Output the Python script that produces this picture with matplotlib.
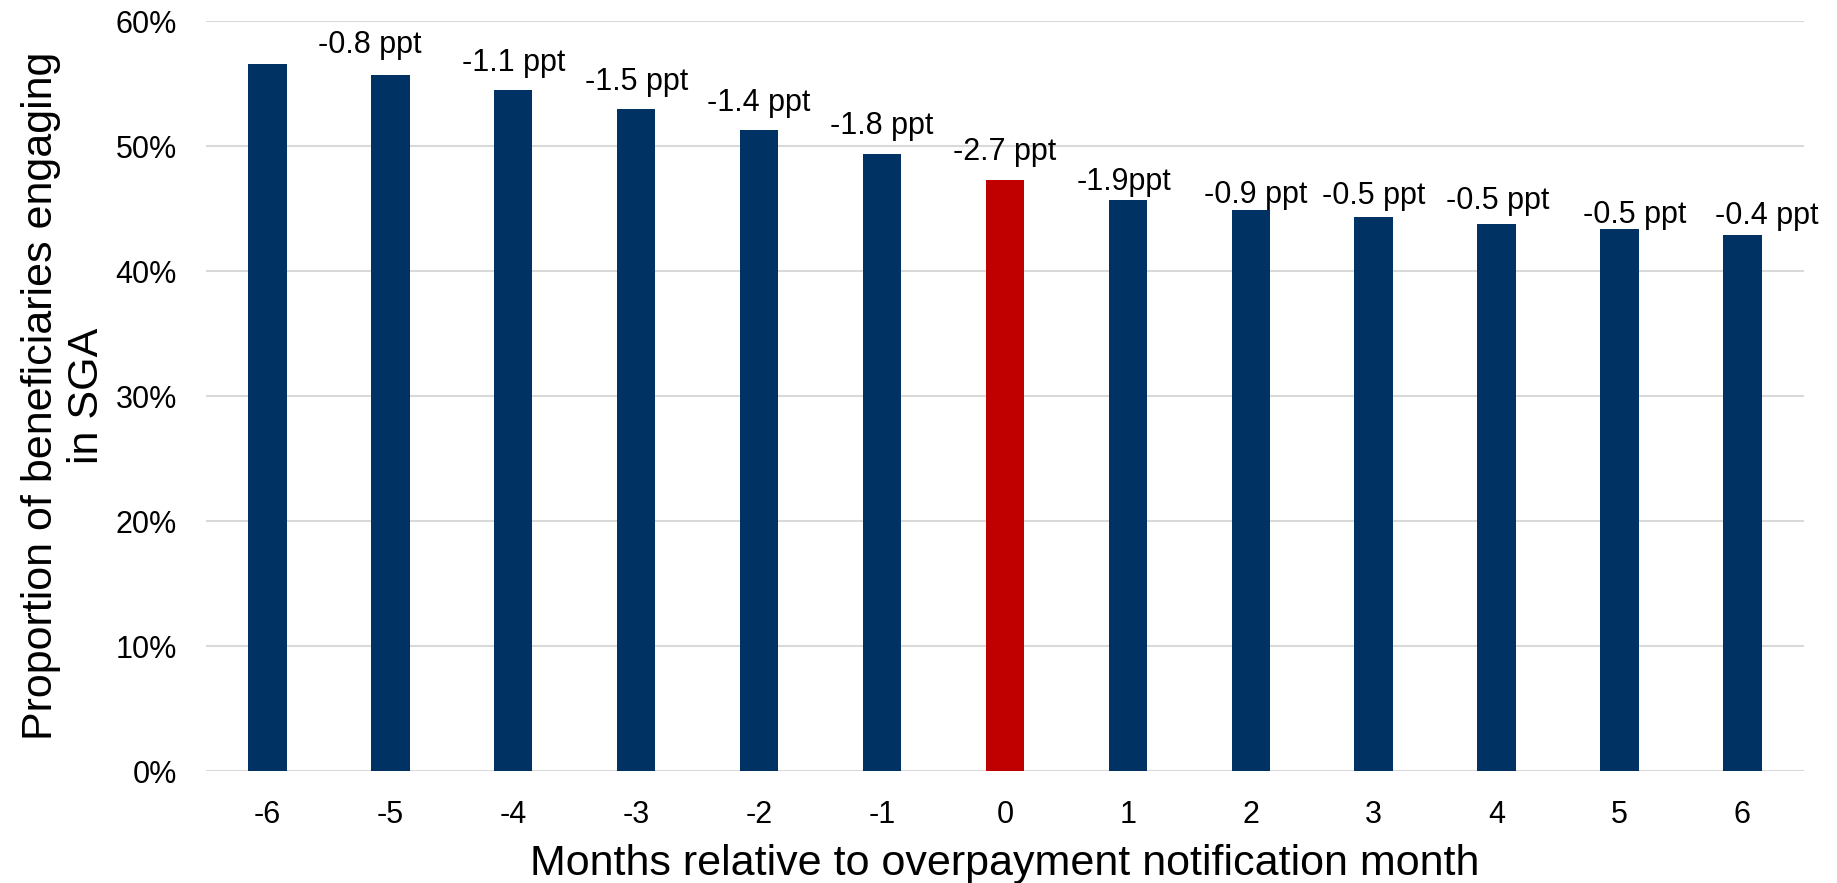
import numpy as np
import matplotlib
matplotlib.use("Agg")
import matplotlib.pyplot as plt
from matplotlib.ticker import PercentFormatter

plt.rcParams['font.family'] = ['Liberation Sans', 'DejaVu Sans']

## Data: share of beneficiaries engaging in SGA by month
months = [-6, -5, -4, -3, -2, -1, 0, 1, 2, 3, 4, 5, 6]
share = [56.6, 55.7, 54.5, 53.0, 51.3, 49.4, 47.3, 45.7, 44.9, 44.3, 43.8, 43.4, 42.9]
labels = ["", "-0.8 ppt", "-1.1 ppt", "-1.5 ppt", "-1.4 ppt", "-1.8 ppt", "-2.7 ppt",
          "-1.9ppt", "-0.9 ppt", "-0.5 ppt", "-0.5 ppt", "-0.5 ppt", "-0.4 ppt"]

## label nudges (x in category units, y in points above bar top)
lab_dx = [0, -0.17, 0, 0, 0, 0, 0, -0.03, 0.04, 0, 0.01, 0.12, 0.20]
lab_dy = [0, 16, 13.8, 13.3, 13.5, 13.8, 14.3, 7.2, 4.8, 9.6, 10.6, 3.8, 7.7]

navy = "#003263"
red = "#C00000"
colors = [red if m == 0 else navy for m in months]

fig = plt.figure(figsize=(18.37, 8.83), dpi=100)
ax = fig.add_axes([0.1121, 0.1268, 0.9820 - 0.1121, 0.9762 - 0.1268])

x = np.arange(len(months))
ax.bar(x, share, width=0.313, color=colors, zorder=3)

for i in range(len(months)):
    if labels[i]:
        ax.annotate(labels[i], (x[i] + lab_dx[i], share[i]), xytext=(0, lab_dy[i]),
                    textcoords="offset points", ha="center", va="baseline", fontsize=22)

ax.set_xlim(-0.5, len(months) - 0.5)
ax.set_ylim(0, 60)
ax.set_yticks(np.arange(0, 61, 10))
ax.yaxis.set_major_formatter(PercentFormatter(decimals=0))
ax.set_xticks(x)
ax.set_xticklabels([str(m) for m in months])
ax.grid(axis="y", color="#d9d9d9", linewidth=1.5, zorder=0)
for s in ax.spines.values():
    s.set_visible(False)
ax.tick_params(axis="both", length=0, labelsize=22, colors="black")
ax.tick_params(axis="y", pad=21)
ax.tick_params(axis="x", pad=21)

ax.set_xlabel("Months relative to overpayment notification month", fontsize=31, labelpad=10)
ax.set_ylabel("Proportion of beneficiaries engaging\nin SGA", fontsize=31, labelpad=6,
              linespacing=1.18)

fig.savefig("out.png", dpi=100)
